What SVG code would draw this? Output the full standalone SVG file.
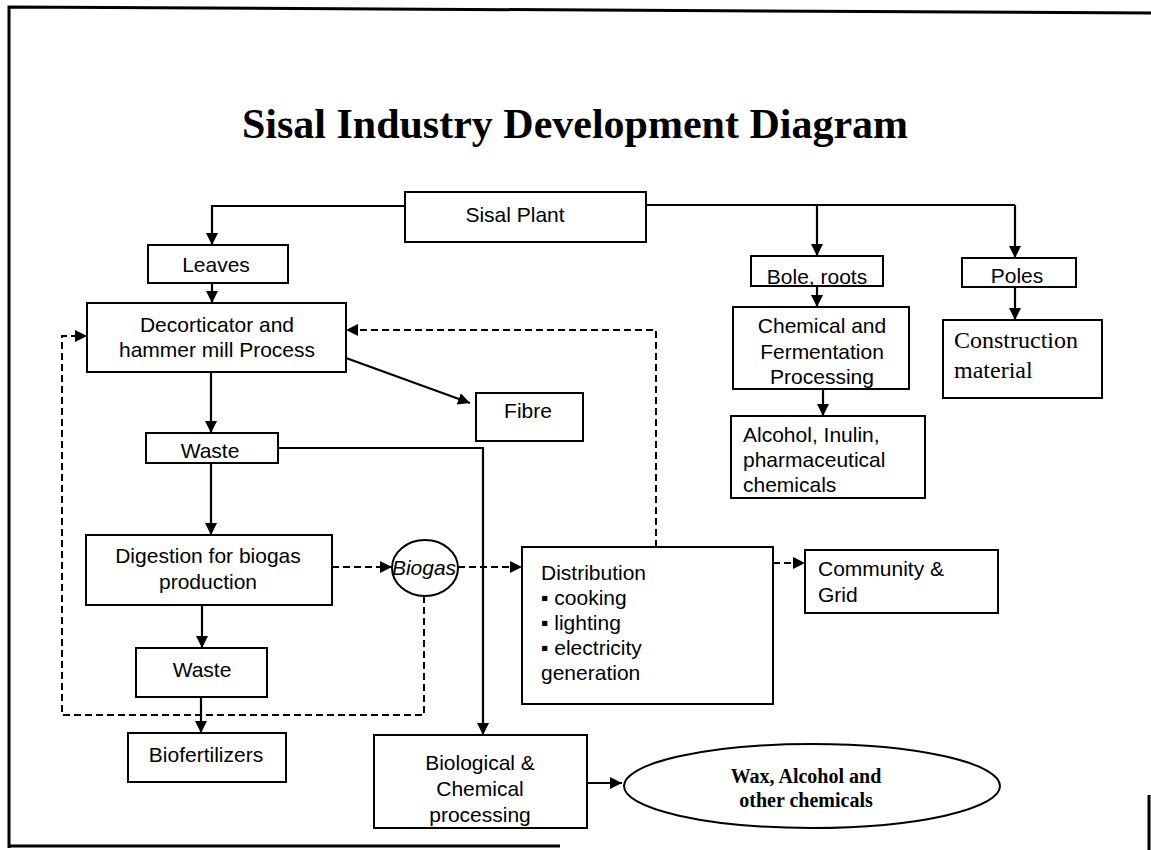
<svg xmlns="http://www.w3.org/2000/svg" width="1151" height="850" viewBox="0 0 1151 850">
  <defs>
    <marker id="ah" viewBox="0 0 10 10" refX="10" refY="5" markerWidth="12" markerHeight="12" markerUnits="userSpaceOnUse" orient="auto">
      <path d="M0,0 L10,5 L0,10 z" fill="#000"/>
    </marker>
    <style>
      .box { fill: #fff; stroke: #000; stroke-width: 2; }
      .lbl { font-family: "Liberation Sans", Arial, sans-serif; font-size: 21px; fill: #000; }
      .mid { text-anchor: middle; }
      .serif { font-family: "Liberation Serif", "Times New Roman", serif; font-size: 24px; fill: #000; }
      .bold { font-family: "Liberation Serif", "Times New Roman", serif; font-weight: bold; font-size: 20px; fill: #000; text-anchor: middle; }
      .solid { fill: none; stroke: #000; stroke-width: 2.2; }
      .dash { fill: none; stroke: #000; stroke-width: 2; stroke-dasharray: 7 4; }
      .frame { fill: none; stroke: #000; stroke-width: 3; }
    </style>
  </defs>

  <rect width="1151" height="850" fill="#fff"/>

  <!-- page frame -->
  <g id="frame">
    <path class="frame" d="M9,848 L9,7 L1151,13"/>
    <path class="frame" d="M8,846 L560,846" stroke-width="2.5"/>
    <path class="frame" d="M1149,795 L1149,850" stroke-width="2"/>
  </g>

  <text x="575" y="138" font-family="Liberation Serif, Times New Roman, serif" font-weight="bold" font-size="42" text-anchor="middle">Sisal Industry Development Diagram</text>

  <!-- connectors -->
  <g id="connectors">
    <path class="solid" d="M405,206 L212,206 L212,245" marker-end="url(#ah)"/>
    <path class="solid" d="M646,205 L1015,205"/>
    <path class="solid" d="M817,205 L817,256" marker-end="url(#ah)"/>
    <path class="solid" d="M1015,205 L1015,258" marker-end="url(#ah)"/>
    <path class="solid" d="M212,283 L212,303" marker-end="url(#ah)"/>
    <path class="solid" d="M211,345 L211,433" marker-end="url(#ah)"/>
    <path class="solid" d="M346,358 L470,403" marker-end="url(#ah)"/>
    <path class="solid" d="M278,448 L483,448 L483,735" marker-end="url(#ah)"/>
    <path class="solid" d="M211,463 L211,535" marker-end="url(#ah)"/>
    <path class="solid" d="M202,590 L202,648" marker-end="url(#ah)"/>
    <path class="solid" d="M201,668 L201,733" marker-end="url(#ah)"/>
    <path class="solid" d="M587,783 L622,783" marker-end="url(#ah)"/>
    <path class="solid" d="M817,286 L817,307" marker-end="url(#ah)"/>
    <path class="solid" d="M823,389 L823,416" marker-end="url(#ah)"/>
    <path class="solid" d="M1015,287 L1015,320" marker-end="url(#ah)"/>
    <path class="dash" d="M656,547 L656,330 L346,330" marker-end="url(#ah)"/>
    <path class="dash" d="M332,567 L392,567" marker-end="url(#ah)"/>
    <path class="dash" d="M458,567 L522,567" marker-end="url(#ah)"/>
    <path class="dash" d="M773,563 L805,563" marker-end="url(#ah)"/>
    <path class="dash" d="M424,596 L424,715 L62,715 L62,336 L87,336" marker-end="url(#ah)"/>
  </g>

  <g id="sisal-plant">
    <rect class="box" x="405" y="192" width="241" height="50"/>
    <text class="lbl mid" x="515" y="222">Sisal Plant</text>
  </g>
  <g id="leaves">
    <rect class="box" x="148" y="245" width="140" height="38"/>
    <text class="lbl mid" x="216" y="272">Leaves</text>
  </g>
  <g id="decorticator">
    <rect class="box" x="87" y="303" width="259" height="69"/>
    <text class="lbl mid" x="217" y="332">Decorticator and</text>
    <text class="lbl mid" x="217" y="357">hammer mill Process</text>
  </g>
  <g id="fibre">
    <rect class="box" x="476" y="393" width="107" height="48"/>
    <text class="lbl mid" x="528" y="418">Fibre</text>
  </g>
  <g id="waste-1">
    <rect class="box" x="146" y="433" width="132" height="30"/>
    <text class="lbl mid" x="210" y="458">Waste</text>
  </g>
  <g id="digestion">
    <rect class="box" x="86" y="535" width="246" height="70"/>
    <text class="lbl mid" x="208" y="563">Digestion for biogas</text>
    <text class="lbl mid" x="208" y="589">production</text>
  </g>
  <g id="biogas">
    <ellipse class="box" cx="425" cy="568" rx="33" ry="28"/>
    <text class="lbl mid" x="424" y="575" font-style="italic">Biogas</text>
  </g>
  <g id="waste-2">
    <rect class="box" x="136" y="648" width="131" height="49"/>
    <text class="lbl mid" x="202" y="677">Waste</text>
  </g>
  <g id="biofertilizers">
    <rect class="box" x="128" y="733" width="158" height="49"/>
    <text class="lbl mid" x="206" y="762">Biofertilizers</text>
  </g>
  <g id="distribution">
    <rect class="box" x="522" y="547" width="251" height="157"/>
    <text class="lbl" x="541" y="580">Distribution</text>
    <text class="lbl" x="541" y="605">▪ cooking</text>
    <text class="lbl" x="541" y="630">▪ lighting</text>
    <text class="lbl" x="541" y="655">▪ electricity</text>
    <text class="lbl" x="541" y="680">generation</text>
  </g>
  <g id="community-grid">
    <rect class="box" x="805" y="550" width="193" height="63"/>
    <text class="lbl" x="818" y="576">Community &amp;</text>
    <text class="lbl" x="818" y="602">Grid</text>
  </g>
  <g id="biological-chemical">
    <rect class="box" x="374" y="735" width="213" height="93"/>
    <text class="lbl mid" x="480" y="770">Biological &amp;</text>
    <text class="lbl mid" x="480" y="796">Chemical</text>
    <text class="lbl mid" x="480" y="822">processing</text>
  </g>
  <g id="wax-alcohol">
    <ellipse class="box" cx="812" cy="786" rx="188" ry="42"/>
    <text class="bold" x="806" y="783">Wax, Alcohol and</text>
    <text class="bold" x="806" y="807">other chemicals</text>
  </g>
  <g id="bole-roots">
    <rect class="box" x="751" y="256" width="132" height="30"/>
    <text class="lbl mid" x="817" y="284">Bole, roots</text>
  </g>
  <g id="chemical-fermentation">
    <rect class="box" x="733" y="307" width="176" height="82"/>
    <text class="lbl mid" x="822" y="333">Chemical and</text>
    <text class="lbl mid" x="822" y="359">Fermentation</text>
    <text class="lbl mid" x="822" y="384">Processing</text>
  </g>
  <g id="alcohol-inulin">
    <rect class="box" x="731" y="416" width="194" height="82"/>
    <text class="lbl" x="743" y="442">Alcohol, Inulin,</text>
    <text class="lbl" x="743" y="467">pharmaceutical</text>
    <text class="lbl" x="743" y="492">chemicals</text>
  </g>
  <g id="poles">
    <rect class="box" x="962" y="258" width="114" height="29"/>
    <text class="lbl mid" x="1017" y="283">Poles</text>
  </g>
  <g id="construction">
    <rect class="box" x="943" y="320" width="159" height="78"/>
    <text class="serif" x="954" y="348">Construction</text>
    <text class="serif" x="954" y="378">material</text>
  </g>
</svg>
